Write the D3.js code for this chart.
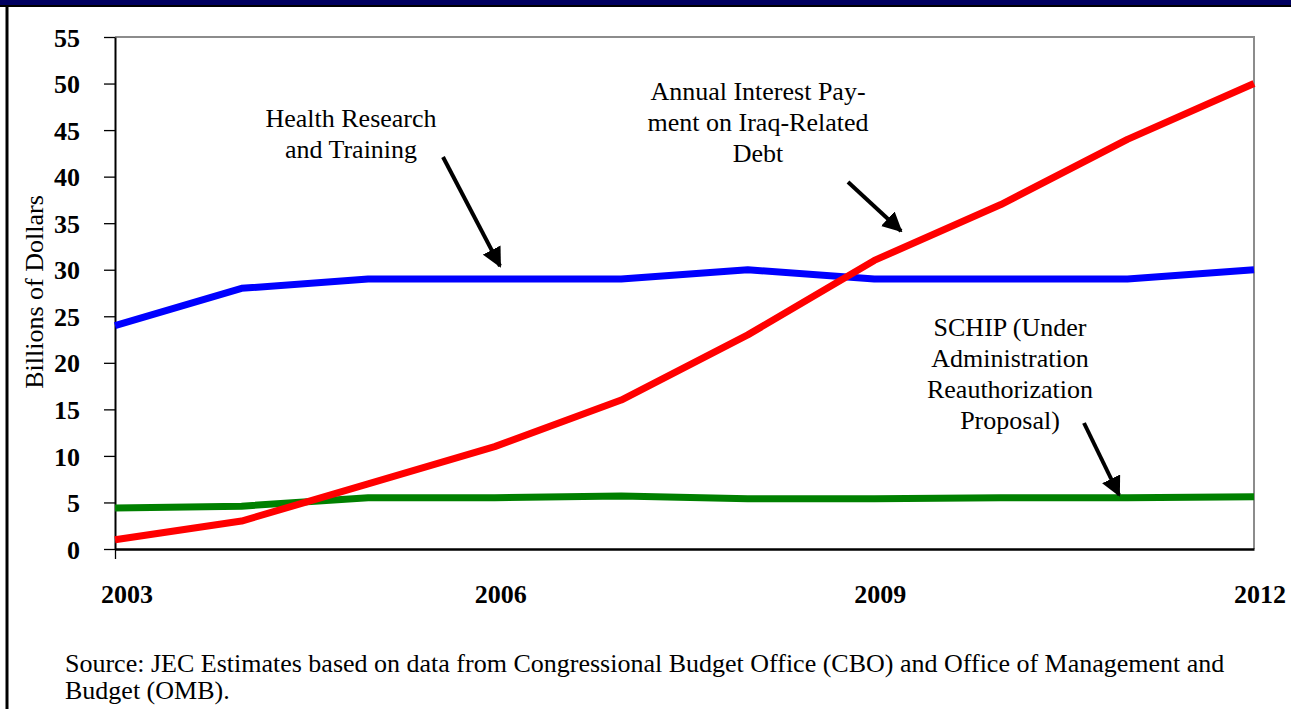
<!DOCTYPE html>
<html><head><meta charset="utf-8">
<script src="https://cdn.jsdelivr.net/npm/d3@7"></script>
<style>
html,body{margin:0;padding:0;background:#fff;}
svg{display:block;font-family:"Liberation Serif","Times New Roman",serif;}
</style></head>
<body><svg id="c" width="1291" height="709"></svg>
<script>
const years = [2003,2004,2005,2006,2007,2008,2009,2010,2011,2012];
const interest = [1,3,7,11,16,23,31,37,44,50];
const health = [24,28,29,29,29,30,29,29,29,30];
const schip = [4.4,4.6,5.5,5.5,5.7,5.4,5.4,5.5,5.5,5.6];
const yTicks = [0,5,10,15,20,25,30,35,40,45,50,55];
const xLabels = [2003,2006,2009,2012];
const sourceLines = ["Source: JEC Estimates based on data from Congressional Budget Office (CBO) and Office of Management and","Budget (OMB)."];

const FS = 26;
const svg = d3.select("#c");
const L=115, R=1254, T=37, B=549;
const x = d3.scaleLinear().domain([2003,2012]).range([L,R]);
const y = d3.scaleLinear().domain([0,55]).range([B,T]);

// top band and left border
svg.append("rect").attr("x",0).attr("y",0).attr("width",1291).attr("height",7).attr("fill","#000060");
svg.append("line").attr("x1",0).attr("x2",1291).attr("y1",6).attr("y2",6).attr("stroke","#000").attr("stroke-width",2);
svg.append("line").attr("x1",7).attr("x2",7).attr("y1",6).attr("y2",709).attr("stroke","#000").attr("stroke-width",3);

// frame top/right gray
svg.append("path").attr("d",`M${L},${T}H${R}V${B}`).attr("fill","none").attr("stroke","#8c8c8c").attr("stroke-width",2);

// y axis
const ya = svg.append("g").attr("transform",`translate(${L},0)`)
  .call(d3.axisLeft(y).tickValues(yTicks).tickSize(11).tickSizeOuter(0).tickPadding(24).tickFormat(d3.format("d")));
ya.select(".domain").attr("stroke","#000").attr("stroke-width",2);
ya.selectAll(".tick line").attr("stroke","#000").attr("stroke-width",1.3);
ya.selectAll("text").attr("font-family","Liberation Serif, serif").attr("font-weight","bold").attr("font-size",FS).attr("fill","#000").attr("dy","0.35em");

// x axis
const xa = svg.append("g").attr("transform",`translate(0,${B})`)
  .call(d3.axisBottom(x).tickValues([2003]).tickSize(10).tickSizeOuter(0).tickFormat(""));
xa.select(".domain").attr("stroke","#000").attr("stroke-width",2.5);
xa.selectAll(".tick line").attr("stroke","#000").attr("stroke-width",1.3);

svg.append("g").selectAll("text").data(xLabels).join("text")
  .attr("x",d=>x(d)+(d===2003?12:6)).attr("y",603).attr("text-anchor","middle")
  .attr("font-weight","bold").attr("font-size",FS).text(d=>d);

// y label
svg.append("text").attr("transform","translate(43,292) rotate(-90)").attr("text-anchor","middle")
  .attr("font-size",FS).text("Billions of Dollars");

// lines
const line = d3.line().x((d,i)=>x(years[i])).y(d=>y(d));
[[schip,"#008000"],[health,"#0000ff"],[interest,"#ff0000"]].forEach(([s,c])=>{
  svg.append("path").datum(s).attr("d",line).attr("fill","none").attr("stroke",c).attr("stroke-width",7).attr("stroke-linejoin","round");
});

// annotations
function label(lines, cx, y0){
  const t = svg.append("text").attr("text-anchor","middle").attr("font-size",FS);
  lines.forEach((s,i)=>t.append("tspan").attr("x",cx).attr("y",y0+i*31).text(s));
}
label(["Health Research","and Training"],351,127);
label(["Annual Interest Pay-","ment on Iraq-Related","Debt"],758,100);
label(["SCHIP (Under","Administration","Reauthorization","Proposal)"],1010,336);

svg.append("defs").append("marker").attr("id","ah").attr("viewBox","0 0 10 10").attr("refX",9).attr("refY",5)
  .attr("markerWidth",5).attr("markerHeight",5).attr("orient","auto").attr("markerUnits","strokeWidth")
  .append("path").attr("d","M0,0L10,5L0,10z").attr("fill","#000");
function arrow(x1,y1,x2,y2){
  svg.append("line").attr("x1",x1).attr("y1",y1).attr("x2",x2).attr("y2",y2).attr("stroke","#000").attr("stroke-width",4).attr("marker-end","url(#ah)");
}
arrow(443,157,500,266);
arrow(848,182,901,231);
arrow(1084,423,1119,495);

// source
const st = svg.append("text").attr("font-size",FS);
sourceLines.forEach((s,i)=>st.append("tspan").attr("x",65).attr("y",672+i*27).text(s));
</script></body></html>
